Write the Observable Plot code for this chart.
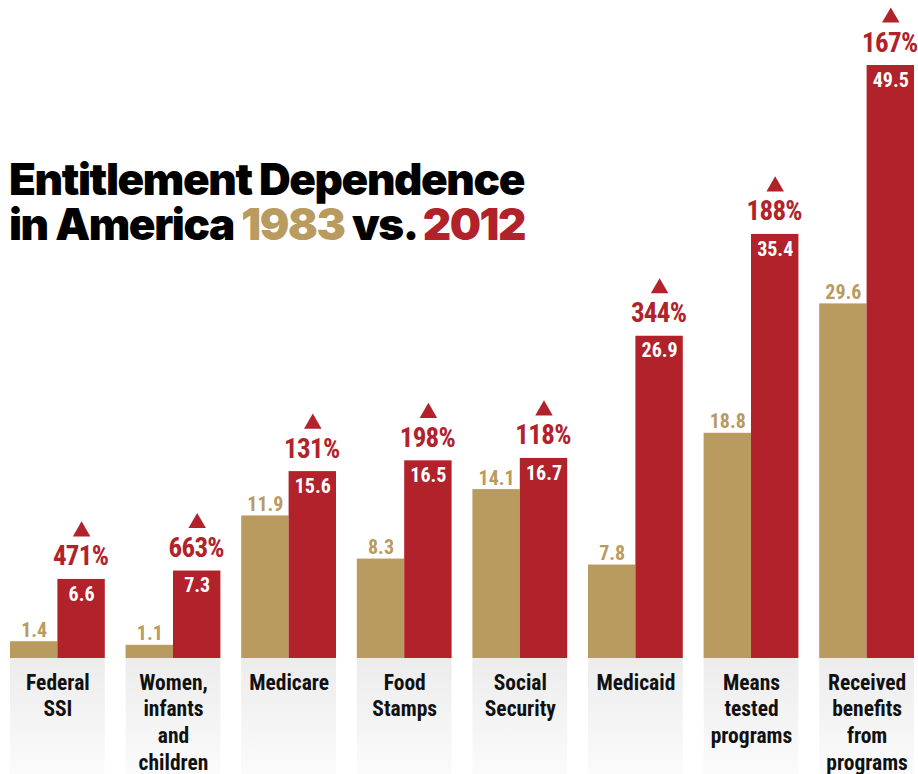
<!DOCTYPE html>
<html>
<head>
<meta charset="utf-8">
<script src="https://cdn.jsdelivr.net/npm/d3@7"></script>
<script src="https://cdn.jsdelivr.net/npm/@observablehq/plot@0.6"></script>
<style>
  html, body { margin: 0; padding: 0; background: #fff; }
  #wrap { position: relative; width: 918px; height: 774px; overflow: hidden; }
  #title {
    position: absolute; left: 9px; top: 157px;
    font-family: Inter, Roboto, "DejaVu Sans", sans-serif;
    font-weight: 900; font-size: 44px; line-height: 45px;
    letter-spacing: -1.4px; color: #000;
  }
  #title .y1 { color: #B99A5F; }
  #title .y2 { color: #B1222A; }
  #chart g[fill="#B1222A"] text { letter-spacing: -0.7px; }
</style>
</head>
<body>
<div id="wrap">
  <div id="chart"></div>
  <div id="title">Entitlement Dependence<br>in America <span class="y1">1983</span> vs. <span class="y2">2012</span></div>
</div>
<script>
const categories = ["Federal\nSSI", "Women,\ninfants\nand\nchildren", "Medicare", "Food\nStamps", "Social\nSecurity", "Medicaid", "Means\ntested\nprograms", "Received\nbenefits\nfrom\nprograms"];
const years = ["1983", "2012"];
const values1983 = [1.4, 1.1, 11.9, 8.3, 14.1, 7.8, 18.8, 29.6];
const values2012 = [6.6, 7.3, 15.6, 16.5, 16.7, 26.9, 35.4, 49.5];
const pctChange = ["471%", "663%", "131%", "198%", "118%", "344%", "188%", "167%"];

const tan = "#B99A5F";
const red = "#B1222A";
const condensed = "'Roboto Condensed', 'Liberation Sans Narrow', 'DejaVu Sans Condensed', 'Arial Narrow', sans-serif";

const rows = [];
categories.forEach((c, i) => {
  rows.push({cat: c, year: "1983", value: values1983[i]});
  rows.push({cat: c, year: "2012", value: values2012[i], pct: pctChange[i]});
});
const rows1983 = rows.filter(d => d.year === "1983");
const rows2012 = rows.filter(d => d.year === "2012");

const yMax = 49.5;
const labelDepth = yMax * 116 / 593; // gray label panel below baseline

const chart = Plot.plot({
  width: 918,
  height: 774,
  marginTop: 65,
  marginBottom: 116,
  marginLeft: 10,
  marginRight: 4,
  fx: {domain: categories, paddingInner: 0.18, paddingOuter: 0, round: false, axis: null, label: null},
  x: {domain: years, padding: 0, round: false, axis: null},
  y: {domain: [0, yMax], axis: null},
  marks: [
    Plot.barY(categories, {fx: d => d, y1: 0, y2: -labelDepth, fill: "url(#panelGrad)"}),
    Plot.barY(rows, {fx: "cat", x: "year", y: "value", fill: d => d.year === "1983" ? tan : red}),
    Plot.text(rows1983, {fx: "cat", x: "year", y: "value", text: d => d.value.toFixed(1), dy: -5, lineAnchor: "bottom", fill: tan, fontSize: 20, fontWeight: "bold", fontFamily: condensed}),
    Plot.text(rows2012, {fx: "cat", x: "year", y: "value", text: d => d.value.toFixed(1), dy: 7, lineAnchor: "top", fill: "#fff", fontSize: 20, fontWeight: "bold", fontFamily: condensed}),
    Plot.text(rows2012, {fx: "cat", x: "year", y: "value", text: "pct", dy: -14, dx: -1, lineAnchor: "bottom", fill: red, fontSize: 27, fontWeight: "bold", fontFamily: condensed}),
    Plot.dot(rows2012, {fx: "cat", x: "year", y: "value", symbol: "triangle", r: 6.5, dy: -48, fill: red, stroke: "none"}),
    Plot.text(categories, {fx: d => d, frameAnchor: "bottom", text: d => d, dy: 12, lineAnchor: "top", lineHeight: 1.25, fill: "#111", fontSize: 21.5, fontWeight: "bold", fontFamily: condensed})
  ]
});
chart.insertAdjacentHTML("afterbegin", `<defs><linearGradient id="panelGrad" x1="0" y1="0" x2="0" y2="1"><stop offset="0" stop-color="#ececec"/><stop offset="1" stop-color="#fbfbfb"/></linearGradient></defs>`);
document.getElementById("chart").appendChild(chart);
</script>
</body>
</html>
